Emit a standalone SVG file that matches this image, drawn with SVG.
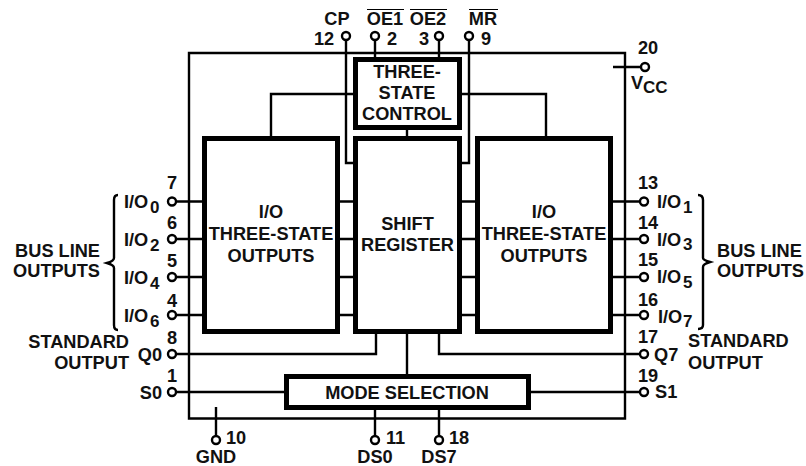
<svg xmlns="http://www.w3.org/2000/svg" width="806" height="466" viewBox="0 0 806 466">
<style>
text{font-family:"Liberation Sans",Arial,sans-serif;font-weight:700;font-size:18.2px;fill:#111}
.m{text-anchor:middle}.e{text-anchor:end}
.sub{font-size:17px}
.box{fill:#fff;stroke:#000;stroke-width:5}
.w{fill:none;stroke:#000;stroke-width:2.4}
.pin{fill:#fff;stroke:#000;stroke-width:2.4}
</style>
<g id="connectors">
<path class="w" d="M189 53H625V418.5H189Z"/>
<path class="w" d="M346 36V163H355M375 36V59M439 36V59M469 36V163H460M407 130V137"/>
<path class="w" d="M271 137V94H355M460 94H546V137"/>
<path class="w" d="M171 201.5H204M171 239H204M171 277H204M171 315H204"/>
<path class="w" d="M339 201.5H355M339 239H355M339 277H355M339 315H355"/>
<path class="w" d="M460 201.5H477M460 239H477M460 277H477M460 315H477"/>
<path class="w" d="M611 201.5H645M611 239H645M611 277H645M611 315H645"/>
<path class="w" d="M171 354H376V334M645 354H439V334M407 334V375M171 392H285M530 392H645"/>
<path class="w" d="M216 407V440M375 409V440M439 409V440M613 67H645"/>
<path fill="none" stroke="#000" stroke-width="2.4" d="M118 195Q114 195 114 200V258Q114 261 107 263Q114 265 114 268V325Q114 330 118 330"/>
<path fill="none" stroke="#000" stroke-width="2.4" d="M698 195Q703 195 703 200V258Q703 260 710 262Q703 264 703 267V325Q703 329 698 329"/>
</g>
<g id="pins">
<circle class="pin" cx="346" cy="36" r="4"/><circle class="pin" cx="375" cy="36" r="4"/><circle class="pin" cx="439" cy="36" r="4"/><circle class="pin" cx="469" cy="36" r="4"/>
<circle class="pin" cx="645" cy="67" r="4"/>
<circle class="pin" cx="172" cy="201.5" r="4"/><circle class="pin" cx="172" cy="239" r="4"/><circle class="pin" cx="172" cy="277" r="4"/><circle class="pin" cx="172" cy="315" r="4"/><circle class="pin" cx="172" cy="354" r="4"/><circle class="pin" cx="172" cy="392" r="4"/>
<circle class="pin" cx="644" cy="201.5" r="4"/><circle class="pin" cx="644" cy="239" r="4"/><circle class="pin" cx="644" cy="277" r="4"/><circle class="pin" cx="644" cy="315" r="4"/><circle class="pin" cx="644" cy="354" r="4"/><circle class="pin" cx="644" cy="392" r="4"/>
<circle class="pin" cx="216" cy="440" r="4"/><circle class="pin" cx="375" cy="440" r="4"/><circle class="pin" cx="439" cy="440" r="4"/>
</g>
<g id="three-state-control">
<rect class="box" x="355.5" y="59.5" width="104" height="68"/>
<text class="m" x="407" y="78">THREE-</text><text class="m" x="407" y="99">STATE</text><text class="m" x="407" y="120">CONTROL</text>
</g>
<g id="left-io">
<rect class="box" x="204.5" y="138.5" width="133" height="193"/>
<text class="m" x="271" y="218">I/O</text><text class="m" x="271" y="240">THREE-STATE</text><text class="m" x="271" y="262">OUTPUTS</text>
</g>
<g id="shift-register">
<rect class="box" x="355.5" y="138.5" width="104" height="193"/>
<text class="m" x="407.5" y="230">SHIFT</text><text class="m" x="407.5" y="251">REGISTER</text>
</g>
<g id="right-io">
<rect class="box" x="477.5" y="138.5" width="133" height="193"/>
<text class="m" x="544" y="218">I/O</text><text class="m" x="544" y="240">THREE-STATE</text><text class="m" x="544" y="262">OUTPUTS</text>
</g>
<g id="mode-selection">
<rect class="box" x="286.5" y="376.5" width="242" height="31"/>
<text class="m" x="407" y="399">MODE SELECTION</text>
</g>
<g id="labels">
<text class="m" x="337" y="25">CP</text>
<text class="m" x="385" y="25">OE1</text><text class="m" x="428" y="25">OE2</text><text class="m" x="483" y="25">MR</text>
<path d="M367 9.5H404M410 9.5H447M469 9.5H498" stroke="#000" stroke-width="1.2" fill="none"/>
<text class="m" x="324" y="45">12</text><text class="m" x="392" y="45">2</text><text class="m" x="424" y="45">3</text><text class="m" x="486" y="45">9</text>
<text x="638" y="54">20</text>
<text x="631" y="89">V</text><text x="643" y="93" class="sub">CC</text>
<text x="172" y="189" class="m">7</text><text x="172" y="229" class="m">6</text><text x="172" y="267" class="m">5</text><text x="172" y="307" class="m">4</text><text x="172" y="344" class="m">8</text><text x="172" y="382" class="m">1</text>
<text x="124" y="208">I/O</text><text x="150" y="213" class="sub">0</text>
<text x="124" y="246">I/O</text><text x="150" y="251" class="sub">2</text>
<text x="124" y="284">I/O</text><text x="150" y="289" class="sub">4</text>
<text x="124" y="322">I/O</text><text x="150" y="327" class="sub">6</text>
<text class="e" x="162" y="361">Q0</text><text class="e" x="162" y="399">S0</text>
<text class="e" x="100" y="257">BUS LINE</text><text class="e" x="100" y="277">OUTPUTS</text>
<text class="e" x="129" y="348">STANDARD</text><text class="e" x="129" y="369">OUTPUT</text>
<text x="638" y="189">13</text><text x="638" y="229">14</text><text x="638" y="266">15</text><text x="638" y="306">16</text><text x="638" y="343">17</text><text x="638" y="382">19</text>
<text x="657" y="208">I/O</text><text x="683" y="213" class="sub">1</text>
<text x="657" y="246">I/O</text><text x="683" y="250" class="sub">3</text>
<text x="657" y="283">I/O</text><text x="683" y="288" class="sub">5</text>
<text x="658" y="323">I/O</text><text x="683" y="327" class="sub">7</text>
<text x="654" y="361">Q7</text><text x="655" y="398">S1</text>
<text x="717" y="257">BUS LINE</text><text x="717" y="277">OUTPUTS</text>
<text x="688" y="347">STANDARD</text><text x="688" y="369">OUTPUT</text>
<text x="226" y="444">10</text><text x="386" y="444">11</text><text x="449" y="444">18</text>
<text class="m" x="216" y="463">GND</text><text class="m" x="375" y="463">DS0</text><text class="m" x="439" y="463">DS7</text>
</g>
</svg>
